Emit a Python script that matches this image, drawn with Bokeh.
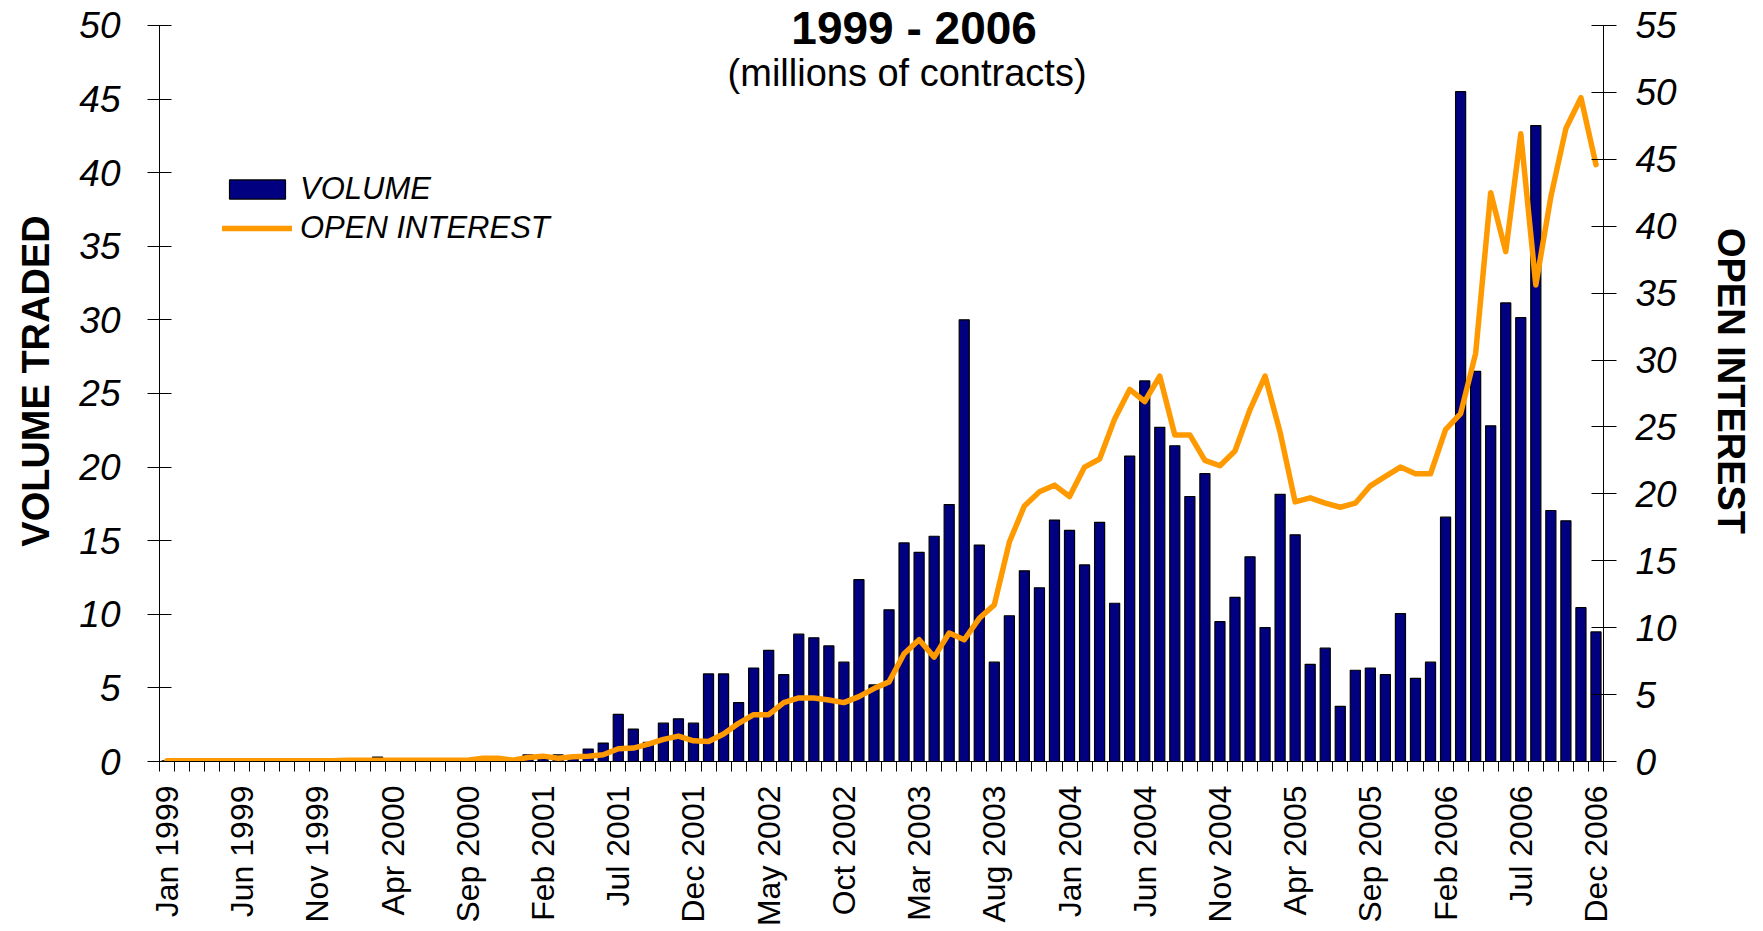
import math
from bokeh.plotting import figure
from bokeh.models import (Range1d, LinearAxis, FixedTicker, Label, Legend,
                          LegendItem, ColumnDataSource)
from bokeh.embed import file_html
from bokeh.resources import INLINE

FONT = "Liberation Sans"

month_names = ["Jan", "Feb", "Mar", "Apr", "May", "Jun",
               "Jul", "Aug", "Sep", "Oct", "Nov", "Dec"]
years = [1999, 2000, 2001, 2002, 2003, 2004, 2005, 2006]
months = [f"{m} {y}" for y in years for m in month_names]

# Volume traded (millions of contracts), monthly Jan 1999 - Dec 2006
volume_1999 = [0.05, 0.05, 0.05, 0.05, 0.05, 0.05, 0.08, 0.05, 0.05, 0.05, 0.05, 0.08]
volume_2000 = [0.1, 0.1, 0.3, 0.1, 0.1, 0.1, 0.1, 0.1, 0.15, 0.15, 0.1, 0.1]
volume_2001 = [0.45, 0.2, 0.45, 0.3, 0.85, 1.25, 3.2, 2.2, 1.3, 2.6, 2.9, 2.6]
volume_2002 = [5.95, 5.95, 4.0, 6.35, 7.55, 5.9, 8.65, 8.4, 7.85, 6.75, 12.35, 5.2]
volume_2003 = [10.3, 14.85, 14.2, 15.3, 17.45, 30.0, 14.7, 6.75, 9.9, 12.95, 11.8, 16.4]
volume_2004 = [15.7, 13.35, 16.25, 10.75, 20.75, 25.85, 22.7, 21.45, 18.0, 19.55, 9.5, 11.15]
volume_2005 = [13.9, 9.1, 18.15, 15.4, 6.6, 7.7, 3.75, 6.2, 6.35, 5.9, 10.05, 5.65]
volume_2006 = [6.75, 16.6, 45.5, 26.5, 22.8, 31.15, 30.15, 43.2, 17.05, 16.35, 10.45, 8.8]

# Open interest (millions of contracts)
oi_1999 = [0.05, 0.05, 0.05, 0.05, 0.05, 0.05, 0.05, 0.05, 0.05, 0.05, 0.05, 0.05]
oi_2000 = [0.1, 0.1, 0.1, 0.1, 0.1, 0.1, 0.1, 0.1, 0.1, 0.25, 0.25, 0.1]
oi_2001 = [0.3, 0.4, 0.25, 0.35, 0.4, 0.5, 0.95, 1.0, 1.3, 1.65, 1.9, 1.55]
oi_2002 = [1.5, 2.05, 2.85, 3.5, 3.5, 4.4, 4.75, 4.75, 4.6, 4.4, 4.85, 5.45]
oi_2003 = [5.95, 8.05, 9.1, 7.8, 9.6, 9.1, 10.7, 11.7, 16.4, 19.1, 20.15, 20.65]
oi_2004 = [19.8, 22.0, 22.6, 25.6, 27.8, 26.9, 28.8, 24.4, 24.4, 22.5, 22.1, 23.2]
oi_2005 = [26.3, 28.8, 24.6, 19.4, 19.7, 19.3, 19.0, 19.3, 20.6, 21.3, 22.0, 21.5]
oi_2006 = [21.5, 24.8, 26.0, 30.5, 42.5, 38.1, 46.9, 35.6, 42.2, 47.3, 49.6, 44.6]

volume = (volume_1999 + volume_2000 + volume_2001 + volume_2002 +
          volume_2003 + volume_2004 + volume_2005 + volume_2006)
open_interest = (oi_1999 + oi_2000 + oi_2001 + oi_2002 +
                 oi_2003 + oi_2004 + oi_2005 + oi_2006)

tick_labels = ["Jan 1999", "Jun 1999", "Nov 1999", "Apr 2000", "Sep 2000",
               "Feb 2001", "Jul 2001", "Dec 2001", "May 2002", "Oct 2002",
               "Mar 2003", "Aug 2003", "Jan 2004", "Jun 2004", "Nov 2004",
               "Apr 2005", "Sep 2005", "Feb 2006", "Jul 2006", "Dec 2006"]
left_ticks = [0, 5, 10, 15, 20, 25, 30, 35, 40, 45, 50]
right_ticks = [0, 5, 10, 15, 20, 25, 30, 35, 40, 45, 50, 55]

# axis extents; the plotting frame reaches a little above the top tick
LEFT_MAX, RIGHT_MAX = 50, 55
TOP_PX, AXIS_PX = 25, 738           # room above the top tick, axis length
left_top = LEFT_MAX * (1 + TOP_PX / AXIS_PX)
right_top = RIGHT_MAX * (1 + TOP_PX / AXIS_PX)

n = len(months)
xs = list(range(n))
src = ColumnDataSource(dict(x=xs, month=months, volume=volume, oi=open_interest))

p = figure(width=1760, height=929, output_backend="svg", toolbar_location=None,
           title=None,
           x_range=Range1d(-0.5, n - 0.5), y_range=Range1d(0, left_top),
           min_border_left=159, min_border_right=157,
           min_border_top=0, min_border_bottom=166)
p.outline_line_color = None
p.xgrid.visible = False
p.ygrid.visible = False
p.extra_y_ranges = {"oi": Range1d(0, right_top)}

# x axis: ticks between months, labels every five months
label_pos = [xs[months.index(t)] for t in tick_labels]
xa = p.xaxis[0]
xa.ticker = FixedTicker(ticks=label_pos, minor_ticks=[i - 0.5 for i in range(n + 1)])
xa.major_label_overrides = {k: t for k, t in zip(label_pos, tick_labels)}
xa.major_label_orientation = math.pi / 2
xa.major_tick_out = 0
xa.major_tick_in = 0
xa.minor_tick_out = 10
xa.minor_tick_in = 0
xa.minor_tick_line_color = "black"
xa.axis_line_color = "black"
xa.major_label_standoff = 14
xa.major_label_text_font = FONT
xa.major_label_text_font_size = "32px"
xa.major_label_text_color = "black"

# left axis
ya = p.yaxis[0]
ya.bounds = (0, LEFT_MAX)
ya.ticker = FixedTicker(ticks=left_ticks, minor_ticks=[])
ya.major_tick_in = 12
ya.major_tick_out = 12
ya.minor_tick_in = 0
ya.minor_tick_out = 0
ya.axis_line_color = "black"
ya.major_tick_line_color = "black"
ya.major_label_standoff = 27
ya.major_label_text_font = FONT
ya.major_label_text_font_size = "37px"
ya.major_label_text_font_style = "italic"
ya.major_label_text_color = "black"
ya.axis_label = "VOLUME TRADED"
ya.axis_label_standoff = 19
ya.axis_label_text_font = FONT
ya.axis_label_text_font_size = "38px"
ya.axis_label_text_font_style = "bold"
ya.axis_label_text_color = "black"

# right axis
ra = LinearAxis(y_range_name="oi", bounds=(0, RIGHT_MAX),
                ticker=FixedTicker(ticks=right_ticks, minor_ticks=[]))
ra.major_tick_in = 12
ra.major_tick_out = 13
ra.minor_tick_in = 0
ra.minor_tick_out = 0
ra.axis_line_color = "black"
ra.major_tick_line_color = "black"
ra.major_label_standoff = 19
ra.major_label_text_font = FONT
ra.major_label_text_font_size = "37px"
ra.major_label_text_font_style = "italic"
ra.major_label_text_color = "black"
ra.axis_label = "OPEN INTEREST"
ra.axis_label_standoff = 30
ra.axis_label_text_font = FONT
ra.axis_label_text_font_size = "38px"
ra.axis_label_text_font_style = "bold"
ra.axis_label_text_color = "black"
p.add_layout(ra, "right")

bars = p.vbar(x="x", top="volume", bottom=0, width=0.67, source=src,
              fill_color="#000080", line_color="black", line_width=1.2)
line = p.line(x="x", y="oi", y_range_name="oi", source=src,
              line_color="#FF9900", line_width=5.5, line_join="round", line_cap="round")

legend = Legend(items=[LegendItem(label="VOLUME", renderers=[bars]),
                       LegendItem(label="OPEN INTEREST", renderers=[line])],
                location=(63, 515), orientation="vertical",
                label_text_font=FONT, label_text_font_size="31px",
                label_text_font_style="italic", label_text_color="black",
                glyph_width=70, glyph_height=24, label_height=36,
                label_standoff=8, spacing=3, padding=5, margin=0,
                border_line_color=None, background_fill_alpha=0)
p.add_layout(legend)

# chart titles (top one anchored just below the top edge so it stays whole)
p.add_layout(Label(x=49.67, y=left_top, y_offset=-1, text="1999 - 2006",
                   text_align="center", text_baseline="top", text_font=FONT,
                   text_font_size="46px", text_font_style="bold", text_color="black"))
p.add_layout(Label(x=49.2, y=46.75, text="(millions of contracts)", text_align="center",
                   text_baseline="middle", text_font=FONT, text_font_size="38px",
                   text_color="black"))

open("out.html", "w").write(file_html(p, INLINE))
